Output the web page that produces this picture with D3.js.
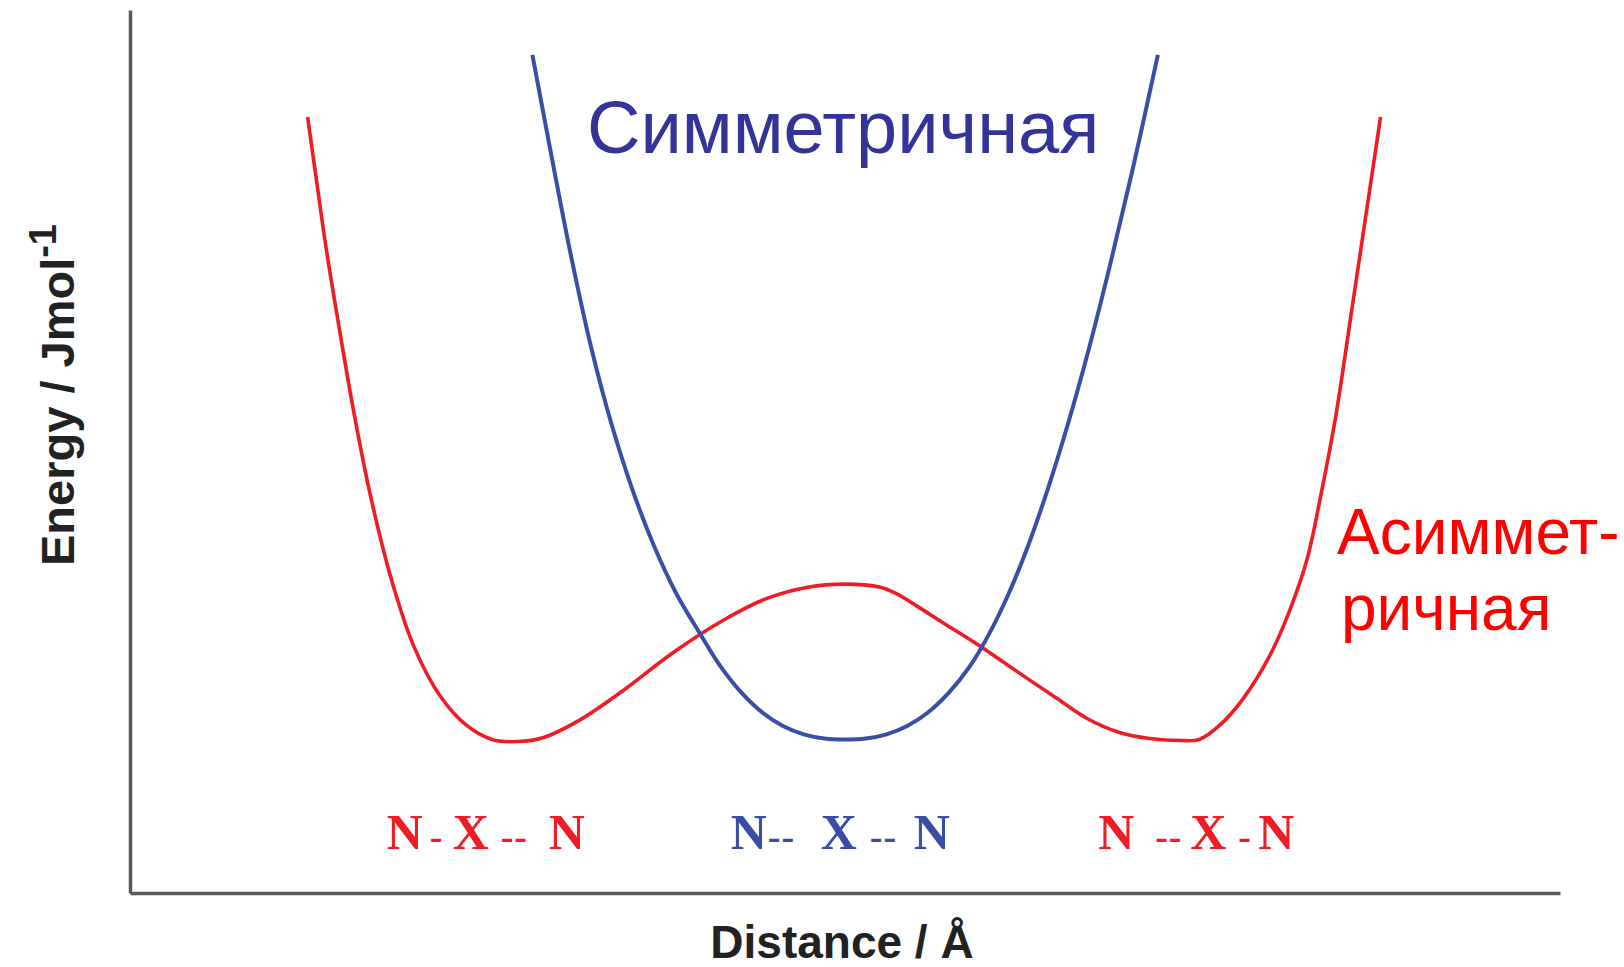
<!DOCTYPE html>
<html><head><meta charset="utf-8">
<script src="https://cdn.jsdelivr.net/npm/d3@7"></script>
<style>html,body{margin:0;padding:0;background:#fff;}svg{display:block;}</style>
</head><body>
<svg id="chart" width="1624" height="967"></svg>
<script>
// Asymmetric (double-well) potential: distance (arb. units), energy (arb. units)
const asymDistance = [1.242,1.300,1.372,1.467,1.568,1.684,1.829,1.988,2.169,2.350,2.531,2.713,2.893,3.147,3.437,3.799,4.161,4.450,4.740,4.994,5.247,5.356,5.501,5.682,5.935,6.189,6.478,6.696,6.913,7.130,7.348,7.478,7.623,7.782,7.963,8.108,8.231,8.325,8.434,8.543,8.651,8.745];
const asymEnergy   = [8.788,8.119,7.298,6.360,5.421,4.483,3.545,2.782,2.231,1.903,1.739,1.715,1.762,1.961,2.279,2.724,3.100,3.334,3.463,3.498,3.463,3.392,3.252,3.064,2.806,2.524,2.208,1.973,1.821,1.750,1.727,1.739,1.903,2.196,2.665,3.193,3.779,4.483,5.421,6.594,7.767,8.788];
// Symmetric (single-well) potential
const symDistance = [2.814,2.966,3.096,3.226,3.364,3.509,3.661,3.820,3.987,4.132,4.277,4.422,4.566,4.711,4.856,5.001,5.146,5.291,5.435,5.580,5.725,5.870,6.008,6.145,6.283,6.421,6.562,6.707,6.855,7.011,7.188];
const symEnergy   = [9.492,8.190,7.122,6.172,5.328,4.589,3.944,3.392,2.935,2.560,2.266,2.044,1.891,1.797,1.750,1.739,1.750,1.797,1.891,2.044,2.266,2.560,2.935,3.392,3.944,4.589,5.328,6.172,7.122,8.190,9.492];
// Structure labels under the wells
const structLabels = [
  {parts:["N","-","X","--","N"], x:2.487, kind:"asym"},
  {parts:["N","--","X","--","N"], x:4.957, kind:"sym"},
  {parts:["N","--","X","-","N"], x:7.456, kind:"asym"}
];
const curveNames = {sym:"Симметричная", asym:["Асиммет-","ричная"]};
const xTitle = "Distance / Å";
const yTitle = "Energy / Jmol";
const yTitleSup = "-1";

// layout: left offset (px) of each glyph group relative to label centre
const glyphOffsets = [
  [-99,-56,-33,15,63],
  [-108,-71,-18,31,75],
  [-98,-41,-6,42,62]
];

const colors = {sym:"#3a4ea6", asym:"#ee1c24", symText:"#333399", asymText:"#ff0000"};

const svg = d3.select("#chart");
const x = d3.scaleLinear().domain([0,10]).range([130,1560]);
const y = d3.scaleLinear().domain([0,10]).range([893,10]);

// axes (no ticks)
const axX = d3.axisBottom(x).tickValues([]).tickSizeOuter(0);
const axY = d3.axisLeft(y).tickValues([]).tickSizeOuter(0);
svg.append("g").attr("transform","translate(0,893)").call(axX)
  .select(".domain").attr("stroke","#5a5a5a").attr("stroke-width",3.5);
svg.append("g").attr("transform","translate(130,0)").call(axY)
  .select(".domain").attr("stroke","#5a5a5a").attr("stroke-width",3.5);

const line = d3.line().x(d=>x(d[0])).y(d=>y(d[1])).curve(d3.curveCatmullRom.alpha(0.5));
const asym = asymDistance.map((d,i)=>[d,asymEnergy[i]]);
const sym = symDistance.map((d,i)=>[d,symEnergy[i]]);

svg.append("path").datum(asym).attr("d",line).attr("fill","none")
  .attr("stroke",colors.asym).attr("stroke-width",3.6).attr("stroke-linejoin","round");
svg.append("path").datum(sym).attr("d",line).attr("fill","none")
  .attr("stroke",colors.sym).attr("stroke-width",4).attr("stroke-linejoin","round");

// curve names
svg.append("text").attr("x",587).attr("y",153)
  .attr("font-family","'Liberation Sans', Arial, sans-serif").attr("font-size",74)
  .attr("fill",colors.symText).text(curveNames.sym);
const at = svg.append("text").attr("font-family","'Liberation Sans', Arial, sans-serif")
  .attr("font-size",64).attr("fill",colors.asymText);
at.append("tspan").attr("x",1337).attr("y",554).text(curveNames.asym[0]);
at.append("tspan").attr("x",1341).attr("y",630).text(curveNames.asym[1]);

// structure labels
structLabels.forEach((l,li)=>{
  const g = svg.append("g")
    .attr("font-family","'Liberation Serif','Times New Roman',serif")
    .attr("font-weight","bold")
    .attr("fill", l.kind==="sym"?colors.sym:colors.asym);
  l.parts.forEach((p,i)=>{
    const isDash = p.indexOf("-")>=0;
    g.append("text").attr("x",x(l.x)+glyphOffsets[li][i]).attr("y",y(0.5))
      .attr("font-size",isDash?38:50)
      .attr("letter-spacing",isDash?1:0)
      .text(p);
  });
});

// axis titles
svg.append("text").attr("x",842).attr("y",958).attr("text-anchor","middle")
  .attr("font-family","'Liberation Sans', Arial, sans-serif").attr("font-weight","bold")
  .attr("font-size",46).attr("fill","#222").text(xTitle);
const yt = svg.append("text").attr("transform","translate(74,395) rotate(-90)")
  .attr("text-anchor","middle")
  .attr("font-family","'Liberation Sans', Arial, sans-serif").attr("font-weight","bold")
  .attr("font-size",47).attr("fill","#222");
yt.append("tspan").text(yTitle);
yt.append("tspan").attr("dy",-18).attr("font-size",38).text(yTitleSup);
</script>
</body></html>
